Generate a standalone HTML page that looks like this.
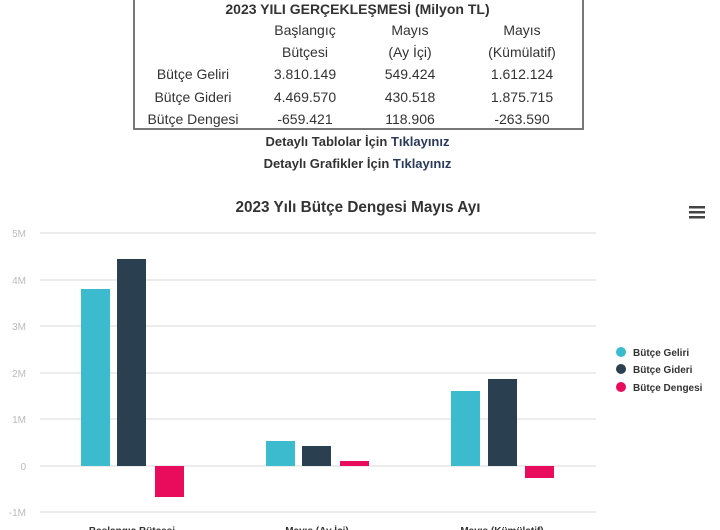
<!DOCTYPE html>
<html><head><style>
body{margin:0;width:720px;height:530px;overflow:hidden;background:#fff;font-family:"Liberation Sans",sans-serif;position:relative}
.t{position:absolute;font-size:14px;color:#333;text-align:center;white-space:nowrap}
.box{position:absolute;left:133px;top:-5px;width:447px;height:133px;border:2px solid #777;border-top:none}
.b{font-weight:bold}
</style></head><body>
<div class="box"></div>
<div class="t b" style="left:133px;width:449px;top:1px;font-size:14px">2023 YILI GERÇEKLEŞMESİ (Milyon TL)</div>
<div class="t" style="left:250px;width:110px;top:22px">Başlangıç</div>
<div class="t" style="left:355px;width:110px;top:22px">Mayıs</div>
<div class="t" style="left:467px;width:110px;top:22px">Mayıs</div>
<div class="t" style="left:250px;width:110px;top:44px">Bütçesi</div>
<div class="t" style="left:355px;width:110px;top:44px">(Ay İçi)</div>
<div class="t" style="left:467px;width:110px;top:44px">(Kümülatif)</div>
<div class="t" style="left:138px;width:110px;top:66px">Bütçe Geliri</div>
<div class="t" style="left:250px;width:110px;top:66px">3.810.149</div>
<div class="t" style="left:355px;width:110px;top:66px">549.424</div>
<div class="t" style="left:467px;width:110px;top:66px">1.612.124</div>
<div class="t" style="left:138px;width:110px;top:89px">Bütçe Gideri</div>
<div class="t" style="left:250px;width:110px;top:89px">4.469.570</div>
<div class="t" style="left:355px;width:110px;top:89px">430.518</div>
<div class="t" style="left:467px;width:110px;top:89px">1.875.715</div>
<div class="t" style="left:138px;width:110px;top:111px">Bütçe Dengesi</div>
<div class="t" style="left:250px;width:110px;top:111px">-659.421</div>
<div class="t" style="left:355px;width:110px;top:111px">118.906</div>
<div class="t" style="left:467px;width:110px;top:111px">-263.590</div>
<div class="t b" style="left:133px;width:449px;top:134px;font-size:13px">Detaylı Tablolar İçin <span style="color:#2a3a5a">Tıklayınız</span></div>
<div class="t b" style="left:133px;width:449px;top:156px;font-size:13px">Detaylı Grafikler İçin <span style="color:#2a3a5a">Tıklayınız</span></div>
<svg style="position:absolute;left:0;top:0" width="720" height="530" font-family="Liberation Sans, sans-serif">
<text x="358" y="212" text-anchor="middle" font-size="16" font-weight="bold" fill="#333" textLength="245" lengthAdjust="spacingAndGlyphs">2023 Yılı Bütçe Dengesi Mayıs Ayı</text>
<g fill="#444"><rect x="689" y="206" width="16" height="2.5"/><rect x="689" y="211" width="16" height="2.5"/><rect x="689" y="216" width="16" height="2.5"/></g>
<g stroke="#e6e6e6" stroke-width="1.5">
<line x1="40" x2="596" y1="233" y2="233"/><line x1="40" x2="596" y1="280" y2="280"/><line x1="40" x2="596" y1="326" y2="326"/><line x1="40" x2="596" y1="373" y2="373"/><line x1="40" x2="596" y1="419" y2="419"/><line x1="40" x2="596" y1="466" y2="466"/><line x1="40" x2="596" y1="512" y2="512"/></g>
<g font-size="10" fill="#bbb" text-anchor="end">
<text x="26" y="237">5M</text><text x="26" y="284">4M</text><text x="26" y="330">3M</text><text x="26" y="377">2M</text><text x="26" y="423">1M</text><text x="26" y="470">0</text><text x="26" y="516">-1M</text></g>
<g fill="#3bbbcd"><rect x="81" y="289" width="29" height="177"/><rect x="266" y="441" width="29" height="25"/><rect x="451" y="391" width="29" height="75"/></g>
<g fill="#2a3f4f"><rect x="117" y="259" width="29" height="207"/><rect x="302" y="446" width="29" height="20"/><rect x="488" y="379" width="29" height="87"/></g>
<g fill="#ea0c5c"><rect x="155" y="466" width="29" height="31"/><rect x="340" y="461" width="29" height="5"/><rect x="525" y="466" width="29" height="12"/></g>
<g font-size="10" font-weight="bold" fill="#333">
<circle cx="621" cy="352" r="5" fill="#3bbbcd"/><text x="633" y="356">Bütçe Geliri</text>
<circle cx="621" cy="369" r="5" fill="#2a3f4f"/><text x="633" y="373">Bütçe Gideri</text>
<circle cx="621" cy="387" r="5" fill="#ea0c5c"/><text x="633" y="391">Bütçe Dengesi</text></g>
<g font-size="10" font-weight="bold" fill="#333" text-anchor="middle">
<text x="132" y="534">Başlangıç Bütçesi</text><text x="317" y="534">Mayıs (Ay İçi)</text><text x="502" y="534">Mayıs (Kümülatif)</text></g>
</svg>
</body></html>
